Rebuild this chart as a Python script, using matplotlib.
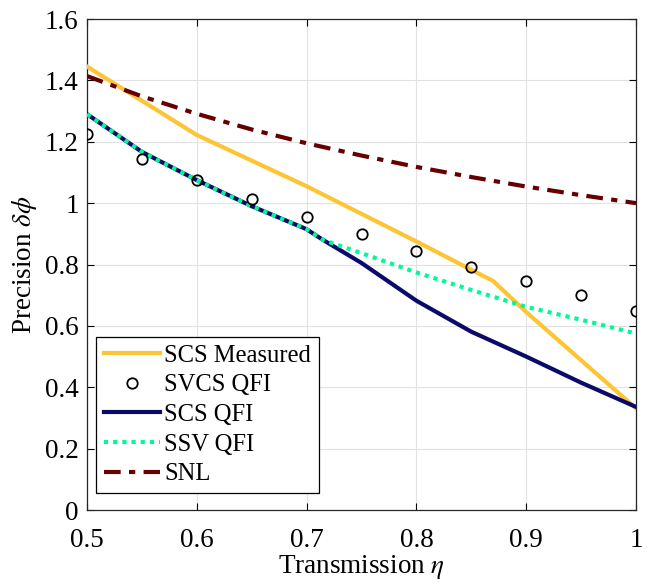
import matplotlib
matplotlib.use("Agg")
import matplotlib.pyplot as plt
from matplotlib.ticker import FuncFormatter

plt.rcParams['font.family'] = ['Liberation Serif', 'DejaVu Serif']
plt.rcParams['mathtext.fontset'] = 'stix'

eta_meas = [0.5, 0.6, 0.7, 0.8, 0.87, 0.9, 1.0]
scs_meas = [1.445, 1.222, 1.055, 0.875, 0.746, 0.645, 0.331]

eta = [0.5, 0.55, 0.6, 0.65, 0.7, 0.75, 0.8, 0.85, 0.9, 0.95, 1.0]
svcs_qfi = [1.225, 1.145, 1.075, 1.012, 0.954, 0.899, 0.844, 0.791, 0.747, 0.700, 0.648]

eta_q = [0.5, 0.55, 0.6, 0.65, 0.7, 0.715, 0.75, 0.8, 0.85, 0.9, 0.95, 1.0]
scs_qfi = [1.290, 1.167, 1.075, 0.990, 0.915, 0.880, 0.805, 0.682, 0.581, 0.500, 0.415, 0.336]
ssv_qfi = [1.290, 1.167, 1.075, 0.990, 0.915, 0.880, 0.837, 0.774, 0.717, 0.662, 0.620, 0.575]

snl = [1.414, 1.348, 1.291, 1.240, 1.195, 1.155, 1.118, 1.085, 1.054, 1.026, 1.000]

fig = plt.figure(figsize=(6.47, 5.83), dpi=100)
ax = fig.add_axes([0.1345, 0.1252, 0.8485, 0.8422])

ax.plot(eta_meas, scs_meas, color='#FDC533', lw=3, label='SCS Measured', zorder=3)
ax.plot(eta, svcs_qfi, 'o', mfc='none', mec='black', mew=1.3, ms=7.5, label='SVCS QFI', zorder=5)
ax.plot(eta_q, scs_qfi, color='#0A0A6B', lw=3, label='SCS QFI', zorder=3)
ax.plot(eta_q, ssv_qfi, color='#00FA9A', lw=3, ls=(0, (1, 1.2)), label='SSV QFI', zorder=4)
ax.plot(eta, snl, color='#660000', lw=3, ls=(0, (4, 2, 1.5, 2)), label='SNL', zorder=3)

ax.set_xlim(0.5, 1.0)
ax.set_ylim(0, 1.6)
ax.set_xticks([0.5, 0.6, 0.7, 0.8, 0.9, 1.0])
ax.set_yticks([0, 0.2, 0.4, 0.6, 0.8, 1.0, 1.2, 1.4, 1.6])
fmt = FuncFormatter(lambda v, p: ('%g' % round(v, 2)))
ax.xaxis.set_major_formatter(fmt)
ax.yaxis.set_major_formatter(fmt)
ax.tick_params(direction='in', labelsize=19.5, length=5, width=0.8, top=True, right=True)
ax.tick_params(axis='x', pad=13)
ax.tick_params(axis='y', pad=6)
ax.grid(True, color='#e2e2e2', lw=0.8)
ax.set_axisbelow(True)
for s in ax.spines.values():
    s.set_linewidth(0.9)
    s.set_color('#262626')

ax.set_xlabel(r'Transmission $\eta$', fontsize=19.5, labelpad=0)
ax.set_ylabel(r'Precision $\delta\phi$', fontsize=19.5, labelpad=4)

leg = ax.legend(loc='lower left', bbox_to_anchor=(0.0164, 0.0346), borderaxespad=0,
                fontsize=17.7, frameon=True, fancybox=False,
                edgecolor='black', framealpha=1, handlelength=2.3, handletextpad=0.15,
                labelspacing=0.3, borderpad=0.32)
leg.get_frame().set_linewidth(0.9)

fig.savefig('out.png', dpi=100)
